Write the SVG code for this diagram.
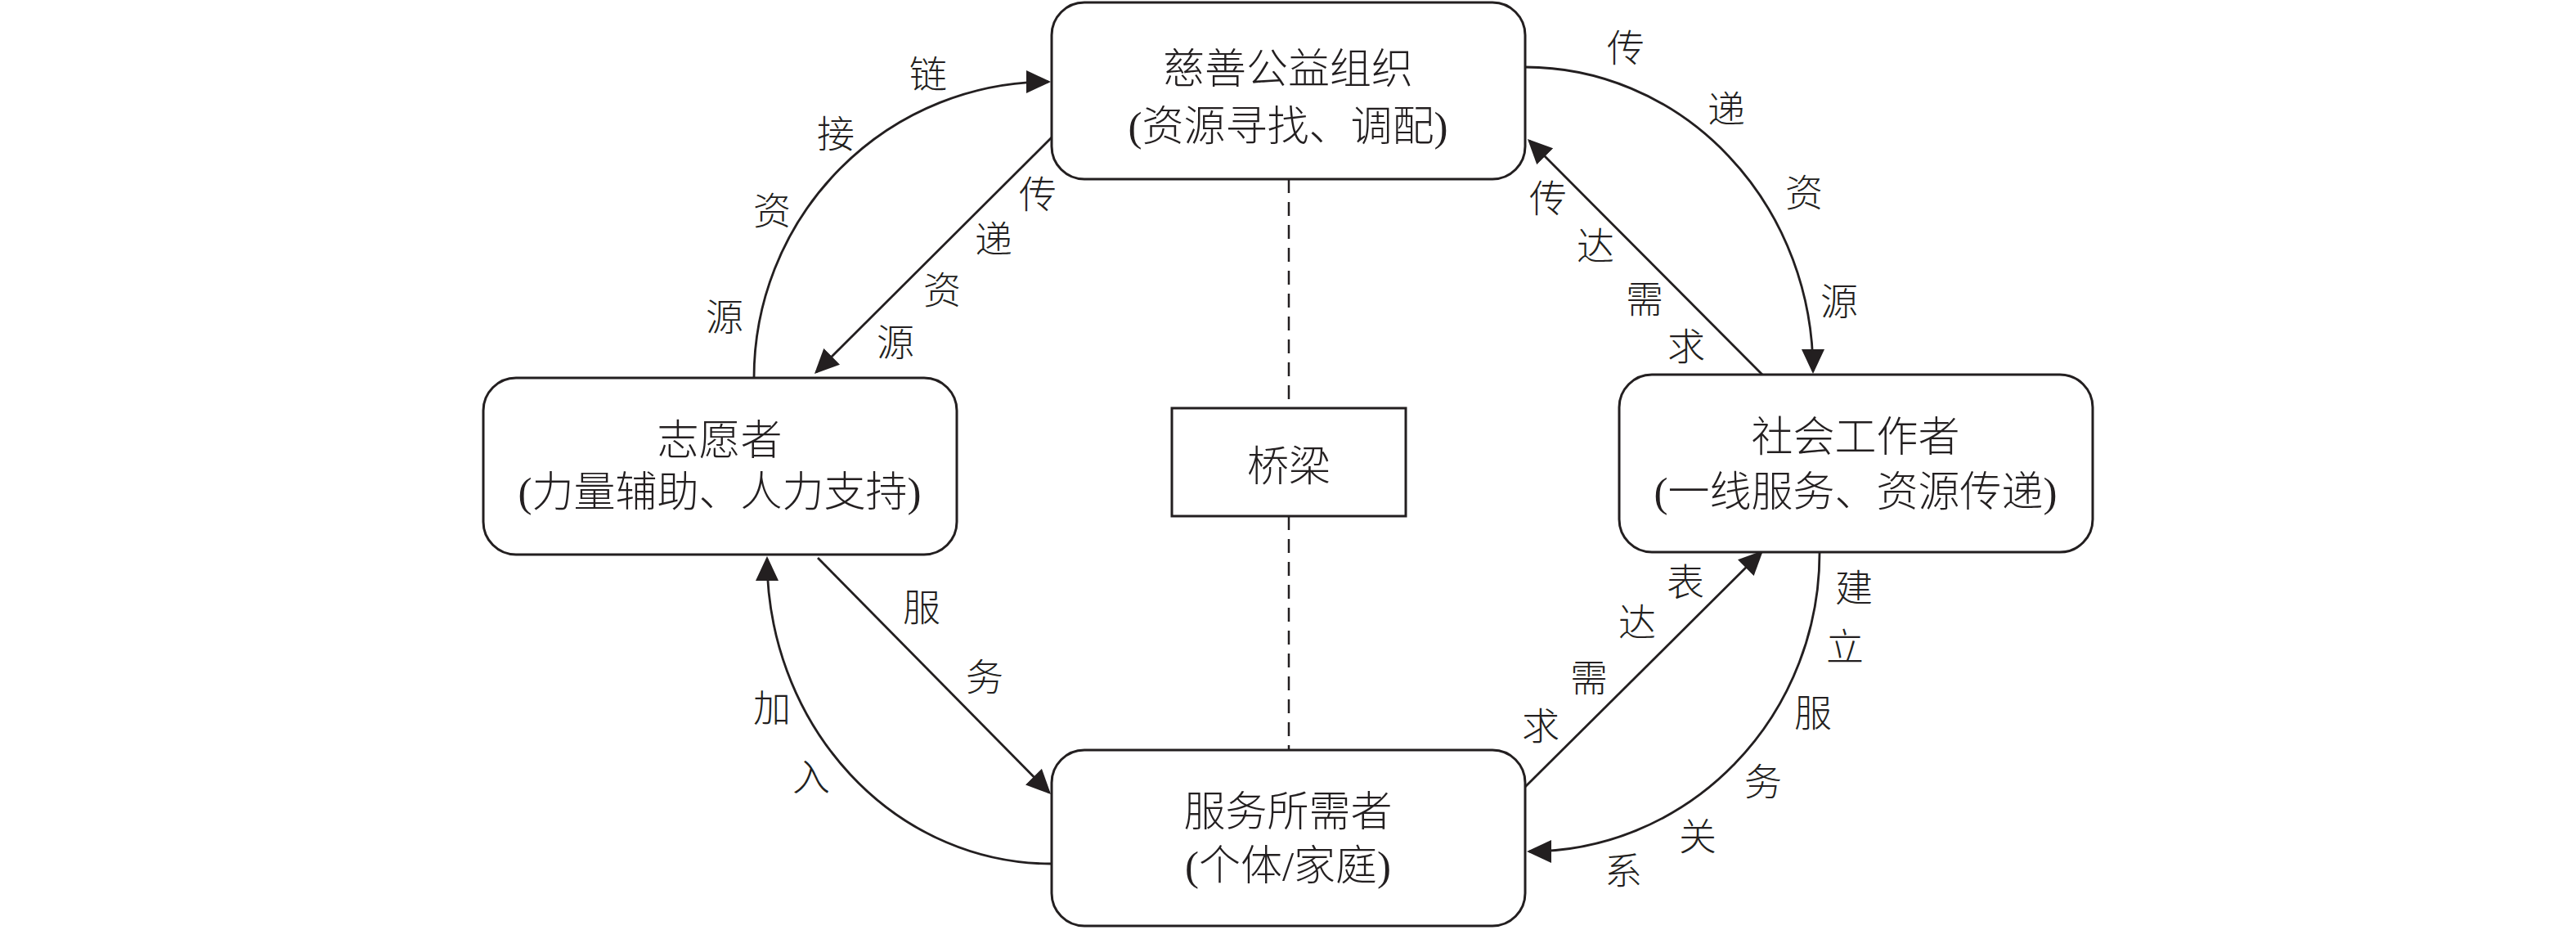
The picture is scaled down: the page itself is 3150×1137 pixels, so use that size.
<svg xmlns="http://www.w3.org/2000/svg" width="3150" height="1137" viewBox="0 0 3150 1137">
<style>
.box{fill:#fff;stroke:#231f20;stroke-width:3}
.t{font-family:'Liberation Serif','Noto Sans CJK SC',serif;font-size:51px;text-anchor:middle;fill:#231f20;font-weight:300}
.l{font-family:'Noto Sans CJK SC',sans-serif;font-size:46px;text-anchor:middle;fill:#231f20;font-weight:300}
.c{fill:none;stroke:#231f20;stroke-width:2.8}
.d{fill:none;stroke:#231f20;stroke-width:2.5;stroke-dasharray:17 11}
</style>
<defs>
<marker id="ah" markerUnits="userSpaceOnUse" markerWidth="30" markerHeight="28" refX="27" refY="14" orient="auto" viewBox="0 0 30 28">
<path d="M0,0 L30,14 L0,28 z" fill="#231f20"/>
</marker>
</defs>
<rect width="3150" height="1137" fill="#fff"/>
<g id="connectors">
<line class="d" x1="1576" y1="219" x2="1576" y2="499"/>
<line class="d" x1="1576" y1="631" x2="1576" y2="917"/>
<path class="c" d="M922,462 A360,362 0 0 1 1282,100" marker-end="url(#ah)"/>
<path class="c" d="M1286,168 L998.1,454.9" marker-end="url(#ah)"/>
<path class="c" d="M1865,82 A352,372 0 0 1 2217,454" marker-end="url(#ah)"/>
<path class="c" d="M2155,458 L1870.1,172.1" marker-end="url(#ah)"/>
<path class="c" d="M1000,682 L1282.9,968.9" marker-end="url(#ah)"/>
<path class="c" d="M1285,1056 A347,373 0 0 1 938,683" marker-end="url(#ah)"/>
<path class="c" d="M1865,962 L2153.9,675.1" marker-end="url(#ah)"/>
<path class="c" d="M2225,676 A355,365 0 0 1 1870,1041" marker-end="url(#ah)"/>
<g id="labels">
<text class="l" x="1135" y="107">链</text>
<text class="l" x="1022" y="180">接</text>
<text class="l" x="944" y="274">资</text>
<text class="l" x="886" y="404">源</text>
<text class="l" x="1269" y="254">传</text>
<text class="l" x="1215" y="309">递</text>
<text class="l" x="1152" y="371">资</text>
<text class="l" x="1095" y="435">源</text>
<text class="l" x="1988" y="75">传</text>
<text class="l" x="2111" y="150">递</text>
<text class="l" x="2206" y="252">资</text>
<text class="l" x="2249" y="385">源</text>
<text class="l" x="1893" y="259">传</text>
<text class="l" x="1951" y="317">达</text>
<text class="l" x="2011" y="382">需</text>
<text class="l" x="2062" y="440">求</text>
<text class="l" x="1127" y="759">服</text>
<text class="l" x="1204" y="844">务</text>
<text class="l" x="944" y="882">加</text>
<text class="l" x="992" y="966">入</text>
<text class="l" x="2061" y="728">表</text>
<text class="l" x="2002" y="777">达</text>
<text class="l" x="1943" y="845">需</text>
<text class="l" x="1884" y="904">求</text>
<text class="l" x="2267" y="735">建</text>
<text class="l" x="2256" y="807">立</text>
<text class="l" x="2217" y="888">服</text>
<text class="l" x="2156" y="972">务</text>
<text class="l" x="2076" y="1039">关</text>
<text class="l" x="1985" y="1081">系</text>
</g>
</g>
<g id="charity">
<rect class="box" x="1286" y="3" width="579" height="216" rx="40" ry="40"/>
<text class="t" x="1575" y="102">慈善公益组织</text>
<text class="t" x="1575" y="172">(资源寻找、调配)</text>
</g>
<g id="volunteer">
<rect class="box" x="591" y="462" width="579" height="216" rx="40" ry="40"/>
<text class="t" x="880" y="556">志愿者</text>
<text class="t" x="880" y="619">(力量辅助、人力支持)</text>
</g>
<g id="socialworker">
<rect class="box" x="1980" y="458" width="579" height="217" rx="40" ry="40"/>
<text class="t" x="2269" y="552">社会工作者</text>
<text class="t" x="2269" y="619">(一线服务、资源传递)</text>
</g>
<g id="recipient">
<rect class="box" x="1286" y="917" width="579" height="215" rx="40" ry="40"/>
<text class="t" x="1575" y="1010">服务所需者</text>
<text class="t" x="1575" y="1076">(个体/家庭)</text>
</g>
<g id="bridge">
<rect class="box" x="1433" y="499" width="286" height="132"/>
<text class="t" x="1576" y="588">桥梁</text>
</g>
</svg>
